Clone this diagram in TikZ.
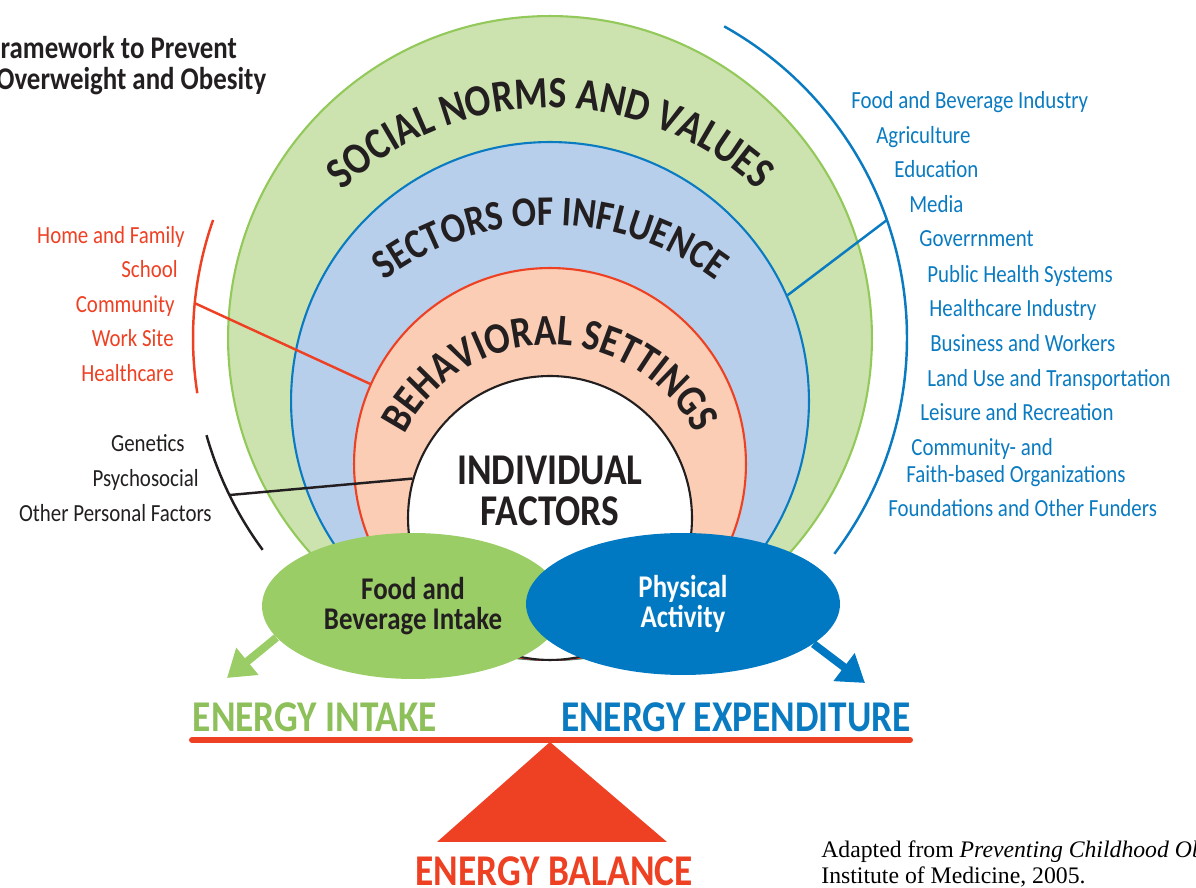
\documentclass[tikz,border=0pt]{standalone}
\usepackage{fontspec}
\setmainfont{Carlito}[FakeStretch=0.85]
\newfontfamily\notefont{Liberation Serif}
\usetikzlibrary{shapes.geometric,arrows.meta,decorations.text,calc}

\definecolor{socialfill}{HTML}{CDE3AF}
\definecolor{socialline}{HTML}{92C95A}
\definecolor{sectorfill}{HTML}{B8CFEC}
\definecolor{sectorline}{HTML}{0A7BC1}
\definecolor{settingfill}{HTML}{FACDB4}
\definecolor{settingline}{HTML}{EE4123}
\definecolor{foodgreen}{HTML}{9ACD65}
\definecolor{activityblue}{HTML}{0079C2}
\definecolor{intakegreen}{HTML}{8DBF5A}
\definecolor{ringtext}{HTML}{231F20}

\tikzset{
  ring/.style={circle, inner sep=0pt, line width=1.2pt},
  bracket/.style={line width=1.4pt},
  link/.style={line width=1.4pt},
  listtext/.style={inner sep=0pt, font=\fontsize{14}{16}\selectfont, text height=1.6ex, text depth=.4ex},
  settinglist/.style={listtext, anchor=east, text=settingline},
  personallist/.style={listtext, anchor=east, text=ringtext},
  sectorlist/.style={listtext, anchor=west, text=sectorline},
  blob/.style={ellipse, inner sep=0pt, align=center, font=\bfseries\fontsize{18}{17.5}\selectfont},
  energy/.style={inner sep=0pt, font=\bfseries\fontsize{25}{25}\selectfont},
  fat/.style={line width=4.5pt, -{Triangle[width=19pt,length=15pt]}},
  ringlabel/.style={decorate, decoration={text along path, text align=center, text color=ringtext}}
}

\begin{document}
\begin{tikzpicture}[x=0.02cm, y=0.02cm]
    \useasboundingbox (0,0) rectangle (1196,888);
    \coordinate (hub) at (550,550);

    \node[ring, draw=socialline, fill=socialfill, minimum size=12.88cm] (social) at (550,550) {};
    \node[ring, draw=sectorline, fill=sectorfill, minimum size=10.36cm] (sectors) at (550,487) {};
    \node[ring, draw=settingline, fill=settingfill, minimum size=7.84cm] (behav) at (550,424) {};
    \node[ring, draw=ringtext, fill=white, minimum size=5.68cm] (indiv) at (550,370) {};

    \path[ringlabel, decoration={text={|\bfseries\fontsize{25.5}{25.5}\selectfont|SOCIAL NORMS AND VALUES}}]
        ($(550,477)+(165:303)$) arc[start angle=165, end angle=15, radius=303];
    \path[ringlabel, decoration={text={|\bfseries\fontsize{24}{24}\selectfont|SECTORS OF INFLUENCE}}]
        ($(550,388)+(165:275)$) arc[start angle=165, end angle=15, radius=275];
    \path[ringlabel, decoration={text={|\bfseries\fontsize{25}{25}\selectfont|BEHAVIORAL SETTINGS}}]
        ($(550,380)+(175:163)$) arc[start angle=175, end angle=5, radius=163];

    \node[inner sep=0pt, align=center, text=ringtext, font=\bfseries\fontsize{25}{23}\selectfont] (indivlabel) at (550,397) {INDIVIDUAL\\FACTORS};

    % brackets round the rings
    \draw[bracket, settingline] ($(hub)+(160.7:357)$) arc[start angle=160.7, end angle=188.9, radius=357];
    \draw[bracket, ringtext] ($(hub)+(195.8:357)$) arc[start angle=195.8, end angle=216.4, radius=357];
    \draw[bracket, sectorline] ($(hub)+(60.8:357)$) arc[start angle=60.8, end angle=-37.2, radius=357];

    \coordinate (settingpt) at ($(hub)+(174.4:357)$);
    \coordinate (personalpt) at ($(hub)+(206.1:357)$);
    \coordinate (sectorpt) at ($(hub)+(19.3:357)$);
    \draw[link, settingline] (settingpt) -- (behav.156);
    \draw[link, ringtext] (personalpt) -- (indiv.164);
    \draw[link, sectorline] (sectorpt) -- (sectors.24);

    \node[settinglist] (home) at (185,650) {Home and Family};
    \node[settinglist] (school) at (178,616) {School};
    \node[settinglist] (community) at (175,581) {Community};
    \node[settinglist] (worksite) at (174,547) {Work Site};
    \node[settinglist] (healthcare) at (174,512) {Healthcare};

    \node[personallist] (genetics) at (185,442) {Genetics};
    \node[personallist] (psycho) at (199,407) {Psychosocial};
    \node[personallist] (otherpers) at (212,372) {Other Personal Factors};

    \node[sectorlist] (foodind) at (851,785) {Food and Beverage Industry};
    \node[sectorlist] (agri) at (876,750) {Agriculture};
    \node[sectorlist] (edu) at (894,716) {Education};
    \node[sectorlist] (media) at (909,681) {Media};
    \node[sectorlist] (gov) at (919,647) {Goverrnment};
    \node[sectorlist] (publich) at (927,611) {Public Health Systems};
    \node[sectorlist] (healthind) at (929,577) {Healthcare Industry};
    \node[sectorlist] (business) at (930,542) {Business and Workers};
    \node[sectorlist] (landuse) at (927,507) {Land Use and Transportation};
    \node[sectorlist] (leisure) at (920,473) {Leisure and Recreation};
    \node[sectorlist] (faith1) at (911,438) {Community- and};
    \node[sectorlist] (faith2) at (906,411) {Faith-based Organizations};
    \node[sectorlist] (funders) at (888,377) {Foundations and Other Funders};

    \node[inner sep=0pt, anchor=west, text=ringtext, font=\bfseries\fontsize{18}{18}\selectfont] (title1) at (-12,840) {Framework to Prevent};
    \node[inner sep=0pt, anchor=west, text=ringtext, font=\bfseries\fontsize{18}{18}\selectfont] (title2) at (-4,807) {Overweight and Obesity};

    \node[blob, fill=foodgreen, text=ringtext, minimum width=6.04cm, minimum height=2.92cm] (food) at (413,282) {Food and\\Beverage Intake};
    \node[blob, fill=activityblue, text=white, minimum width=6.28cm, minimum height=2.84cm] (activity) at (683,284) {Physical\\Activity};

    \coordinate (intaketip) at (227,210);
    \coordinate (expendtip) at (865,205);
    \draw[fat, foodgreen] (food.193) -- (intaketip);
    \draw[fat, activityblue] (activity.343) -- (expendtip);

    \node[energy, text=intakegreen] (intake) at (315,171) {ENERGY INTAKE};
    \node[energy, text=sectorline] (expend) at (736,171) {ENERGY EXPENDITURE};

    \coordinate (barleft) at (192,148);
    \coordinate (barright) at (910,148);
    \coordinate (pivot) at (550,146);
    \draw[settingline, line width=3.4pt, line cap=round] (barleft) -- (barright);
    \fill[settingline] (pivot) -- (437,46) -- (667,46) -- cycle;

    \node[energy, anchor=base, text=settingline] (balance) at (554,2) {ENERGY BALANCE};

    \node[inner sep=0pt, anchor=base west, font=\notefont\fontsize{13.5}{16}\selectfont] (source1) at (821,30) {Adapted from \textit{Preventing Childhood Obesity}};
    \node[inner sep=0pt, anchor=base west, font=\notefont\fontsize{13.5}{16}\selectfont] (source2) at (821,4) {Institute of Medicine, 2005.};
\end{tikzpicture}
\end{document}
